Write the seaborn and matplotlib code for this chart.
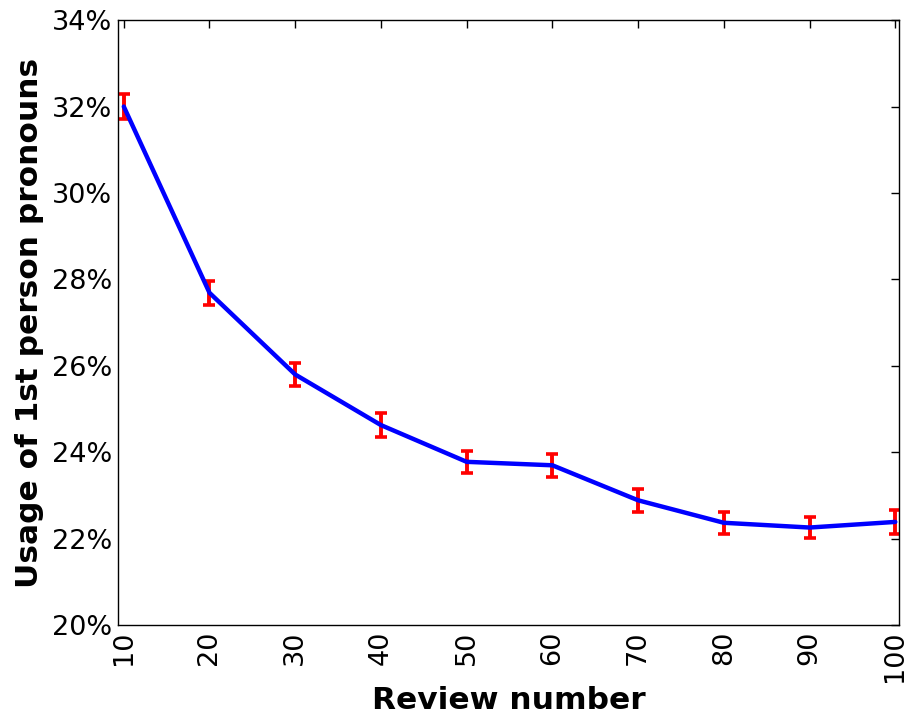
import matplotlib
matplotlib.use("Agg")
import matplotlib.pyplot as plt
import seaborn as sns
import pandas as pd

# Review index and mean first-person pronoun usage (%), with standard errors
review_number = [10, 20, 30, 40, 50, 60, 70, 80, 90, 100]
pronoun_usage = [32.00, 27.69, 25.80, 24.63, 23.78, 23.70, 22.89, 22.37, 22.26, 22.39]
usage_error = [0.30, 0.28, 0.27, 0.27, 0.26, 0.26, 0.26, 0.25, 0.25, 0.27]
y_ticks = [20, 22, 24, 26, 28, 30, 32, 34]
x_ticks = [10, 20, 30, 40, 50, 60, 70, 80, 90, 100]

df = pd.DataFrame({"review": review_number, "usage": pronoun_usage, "err": usage_error})

sns.set_style("white")
plt.rcParams["font.family"] = ["DejaVu Sans"]
plt.rcParams["text.color"] = "black"
plt.rcParams["axes.labelcolor"] = "black"

fig = plt.figure(figsize=(9.13, 7.17), dpi=100)
ax = fig.add_axes([0.129, 0.128, 0.856, 0.844])

ax.errorbar(df["review"], df["usage"], yerr=df["err"], fmt="none",
            ecolor="red", elinewidth=2.8, capsize=4.5, capthick=2.6, zorder=2)
sns.lineplot(data=df, x="review", y="usage", color="blue", linewidth=3.2,
             ax=ax, zorder=3)

ax.set_xlim(9.3, 100.47)
ax.set_ylim(20, 34)
ax.set_xticks(x_ticks)
ax.set_xticklabels([str(v) for v in x_ticks], rotation=90)
ax.set_yticks(y_ticks)
ax.set_yticklabels([f"{v}%" for v in y_ticks])

ax.tick_params(axis="both", which="major", direction="in", length=6, width=1,
               top=True, right=True, labelsize=19.5, colors="black", pad=4)
for spine in ax.spines.values():
    spine.set_visible(True)
    spine.set_color("black")
    spine.set_linewidth(1.0)

ax.set_xlabel("Review number", fontsize=22.5, fontweight="bold", labelpad=3)
ax.set_ylabel("Usage of 1st person pronouns", fontsize=22.5, fontweight="bold", labelpad=6)

fig.savefig("out.png", dpi=100)
